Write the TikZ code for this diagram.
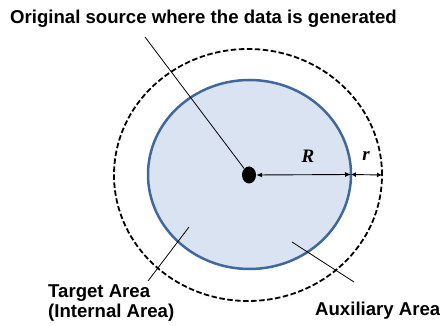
\documentclass[tikz,border=0pt]{standalone}
\usepackage{fontspec}
\setmainfont{Liberation Sans}
\newfontfamily\serifbi{Liberation Serif}
\usetikzlibrary{shapes.geometric,arrows.meta}
\definecolor{areafill}{RGB}{218,227,241}
\definecolor{areaedge}{RGB}{64,104,158}
\begin{document}
\begin{tikzpicture}[x=1pt,y=1pt,
  lbl/.style={font=\fontsize{18.6}{20}\selectfont\bfseries, inner sep=0pt},
  mathlbl/.style={font=\fontsize{19}{20}\selectfont\serifbi\bfseries\itshape, inner sep=0pt},
  pointer/.style={draw=black, line width=0.8pt},
  dimarrow/.style={draw=black, line width=0.9pt, {Latex[length=6pt,width=5pt]}-{Latex[length=6pt,width=5pt]}},
  shortarrow/.style={draw=black, line width=0.9pt, {Latex[length=5pt,width=5pt]}-{Latex[length=5pt,width=5pt]}}]
\useasboundingbox (0,0) rectangle (440,326);
% outer (auxiliary) boundary
\node[ellipse, draw=black, line width=1.8pt, dash pattern=on 5.5pt off 2.5pt,
      inner sep=0pt, outer sep=0pt, minimum width=268pt, minimum height=252pt] (outer) at (248,151) {};
% inner (target) area
\node[ellipse, draw=areaedge, fill=areafill, line width=2.5pt,
      inner sep=0pt, outer sep=0pt, minimum width=203pt, minimum height=189pt] (inner) at (249.5,151.5) {};
% source dot
\node[ellipse, fill=black, inner sep=0pt, minimum width=14pt, minimum height=17pt] (dot) at (249,151) {};
% dimension arrows
\draw[dimarrow] (dot.east) -- (inner.east);
\draw[shortarrow] (inner.east) -- (outer.east);
\node[mathlbl] (Rlbl) at (308,170) {R};
\node[mathlbl] (rlbl) at (366,170) {r};
% labels
\node[lbl, anchor=base west] (title) at (10,302.5) {Original source where the data is generated};
\node[lbl, anchor=north west, align=left] (target) at (48,41.5) {Target Area\\(Internal Area)};
\node[lbl, anchor=base west] (aux) at (315,10) {Auxiliary Area};
% pointer lines
\coordinate (srcpt) at (145,289);
\draw[pointer] (srcpt) -- (dot);
\coordinate (tgtA) at (148,45);
\coordinate (tgtB) at (189,99);
\draw[pointer] (tgtA) -- (tgtB);
\coordinate (auxA) at (292,84);
\coordinate (auxB) at (354,44);
\draw[pointer] (auxA) -- (auxB);
\end{tikzpicture}
\end{document}
